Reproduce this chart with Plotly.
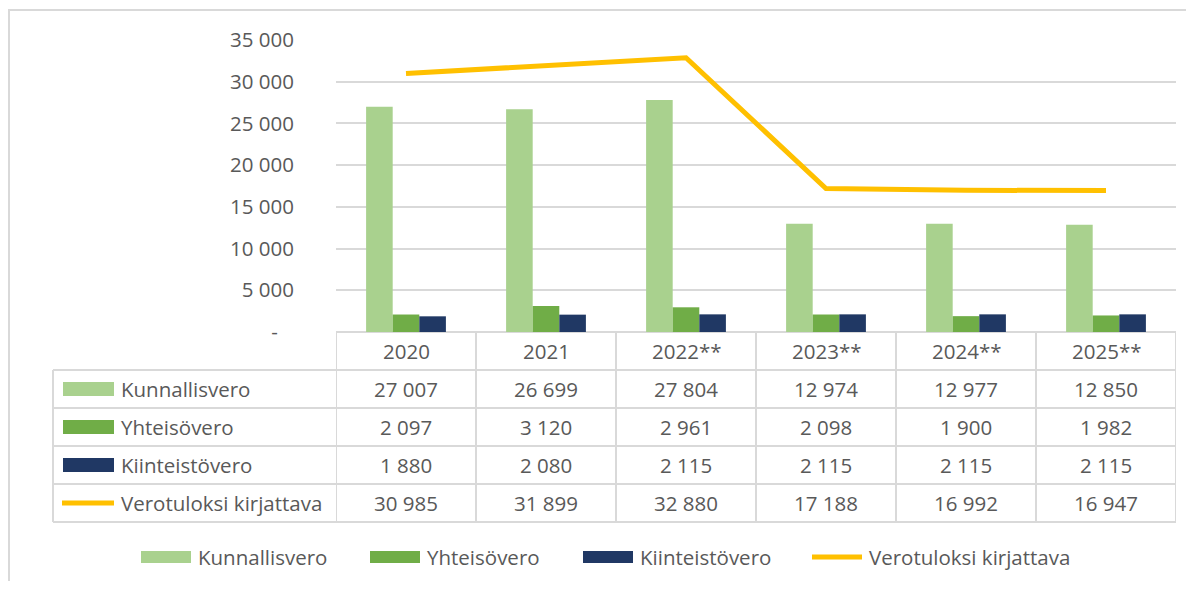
import plotly.graph_objects as go

# ---- data ----
years = ["2020", "2021", "2022**", "2023**", "2024**", "2025**"]
kunnallisvero = [27007, 26699, 27804, 12974, 12977, 12850]
yhteisovero = [2097, 3120, 2961, 2098, 1900, 1982]
kiinteistovero = [1880, 2080, 2115, 2115, 2115, 2115]
verotuloksi = [30985, 31899, 32880, 17188, 16992, 16947]
series_names = ["Kunnallisvero", "Yhteisövero", "Kiinteistövero", "Verotuloksi kirjattava"]
y_tickvals = [0, 5000, 10000, 15000, 20000, 25000, 30000, 35000]
y_ticktext = ["-\u00a0\u00a0\u00a0", "5 000", "10 000", "15 000", "20 000", "25 000", "30 000", "35 000"]

colors = ["#A9D18E", "#70AD47", "#203864", "#FFC000"]
txt = "#595959"
grid = "#D9D9D9"
FONT = "Open Sans"
FS = 20.5

# page body has an 8px margin; coordinates below are given in window pixels
OFF = 8
W, H = 1194 - 2 * OFF, 589 - 2 * OFF
PLOT_L, PLOT_R, PLOT_T, PLOT_B = 336, 1176, 40, 332  # window px
L = PLOT_L - OFF
R = W - (PLOT_R - OFF)
T = PLOT_T - OFF
B = H - (PLOT_B - OFF)
PH = PLOT_B - PLOT_T
PW = PLOT_R - PLOT_L


def py(ypix):
    return (PLOT_B - ypix) / PH


def px(xpix):
    return (xpix - PLOT_L) / PW


def fmt(v):
    return f"{v:,}".replace(",", " ")


fig = go.Figure()
bar_series = [kunnallisvero, yhteisovero, kiinteistovero]
for name, vals, c in zip(series_names[:3], bar_series, colors[:3]):
    fig.add_trace(go.Bar(x=years, y=vals, name=name, marker=dict(color=c, line=dict(width=0)),
                         showlegend=False))
fig.add_trace(go.Scatter(x=years, y=verotuloksi, name=series_names[3], mode="lines",
                         line=dict(color=colors[3], width=5), showlegend=False))

shapes = []
annotations = []

# table grid lines
row_lines = [332, 370, 408, 446, 484, 522]
for i, yl in enumerate(row_lines):
    x0 = 0 if i == 0 else px(53)
    shapes.append(dict(type="line", xref="paper", yref="paper", x0=x0, x1=1, y0=py(yl), y1=py(yl),
                       line=dict(color=grid, width=2), layer="below"))
for k in range(len(years) + 1):
    shapes.append(dict(type="line", xref="x", yref="paper", x0=k - 0.5, x1=k - 0.5,
                       y0=py(332), y1=py(522), line=dict(color=grid, width=2)))
shapes.append(dict(type="line", xref="paper", yref="paper", x0=px(53), x1=px(53),
                   y0=py(370), y1=py(522), line=dict(color=grid, width=2)))

# header row
for i, yr in enumerate(years):
    annotations.append(dict(x=i, y=py(351), xref="x", yref="paper", text=yr, showarrow=False,
                            font=dict(family=FONT, size=FS, color=txt), xanchor="center", yanchor="middle"))

row_centers = [389, 427, 465, 503]
all_series = [kunnallisvero, yhteisovero, kiinteistovero, verotuloksi]
for r, (name, vals, c, yc) in enumerate(zip(series_names, all_series, colors, row_centers)):
    for i, v in enumerate(vals):
        annotations.append(dict(x=i, y=py(yc), xref="x", yref="paper", text=fmt(v), showarrow=False,
                                font=dict(family=FONT, size=FS, color=txt), xanchor="center", yanchor="middle"))
    annotations.append(dict(x=px(119), y=py(yc), xref="paper", yref="paper", text=name, showarrow=False,
                            font=dict(family=FONT, size=FS, color=txt), xanchor="left", yanchor="middle"))
    if r < 3:
        shapes.append(dict(type="rect", xref="paper", yref="paper", x0=px(63), x1=px(114),
                           y0=py(yc + 7), y1=py(yc - 7), fillcolor=c, line=dict(width=0)))
    else:
        shapes.append(dict(type="line", xref="paper", yref="paper", x0=px(62), x1=px(114),
                           y0=py(yc), y1=py(yc), line=dict(color=c, width=5)))

# bottom legend
leg_y = 557
leg_items = [(141, 191, 196), (370, 420, 425), (583, 633, 638), (812, 862, 867)]
for (s0, s1, tx), name, c in zip(leg_items, series_names, colors):
    if name != series_names[3]:
        shapes.append(dict(type="rect", xref="paper", yref="paper", x0=px(s0), x1=px(s1),
                           y0=py(leg_y + 6), y1=py(leg_y - 6), fillcolor=c, line=dict(width=0)))
    else:
        shapes.append(dict(type="line", xref="paper", yref="paper", x0=px(s0), x1=px(s1),
                           y0=py(leg_y), y1=py(leg_y), line=dict(color=c, width=5)))
    annotations.append(dict(x=px(tx), y=py(leg_y), xref="paper", yref="paper", text=name, showarrow=False,
                            font=dict(family=FONT, size=FS, color=txt), xanchor="left", yanchor="middle"))

# outer chart border
shapes.append(dict(type="rect", xref="paper", yref="paper", x0=px(9), x1=px(1230),
                   y0=py(640), y1=py(10), line=dict(color=grid, width=2), fillcolor="rgba(0,0,0,0)"))

fig.update_layout(
    width=W, height=H,
    margin=dict(l=L, r=R, t=T, b=B, pad=0),
    paper_bgcolor="white", plot_bgcolor="white",
    barmode="group", bargap=0.43, bargroupgap=0,
    font=dict(family=FONT, size=FS, color=txt),
    shapes=shapes, annotations=annotations,
    showlegend=False,
    xaxis=dict(type="category", range=[-0.5, len(years) - 0.5], showticklabels=False,
               showgrid=False, zeroline=False, showline=False, ticks=""),
    yaxis=dict(range=[0, 35000], tickvals=y_tickvals, ticktext=y_ticktext,
               showgrid=True, gridcolor=grid, gridwidth=2, zeroline=False, showline=False,
               ticks="outside", ticklen=37, tickcolor="rgba(0,0,0,0)",
               tickfont=dict(family=FONT, size=FS, color=txt)),
)

fig.write_html("out.html")
